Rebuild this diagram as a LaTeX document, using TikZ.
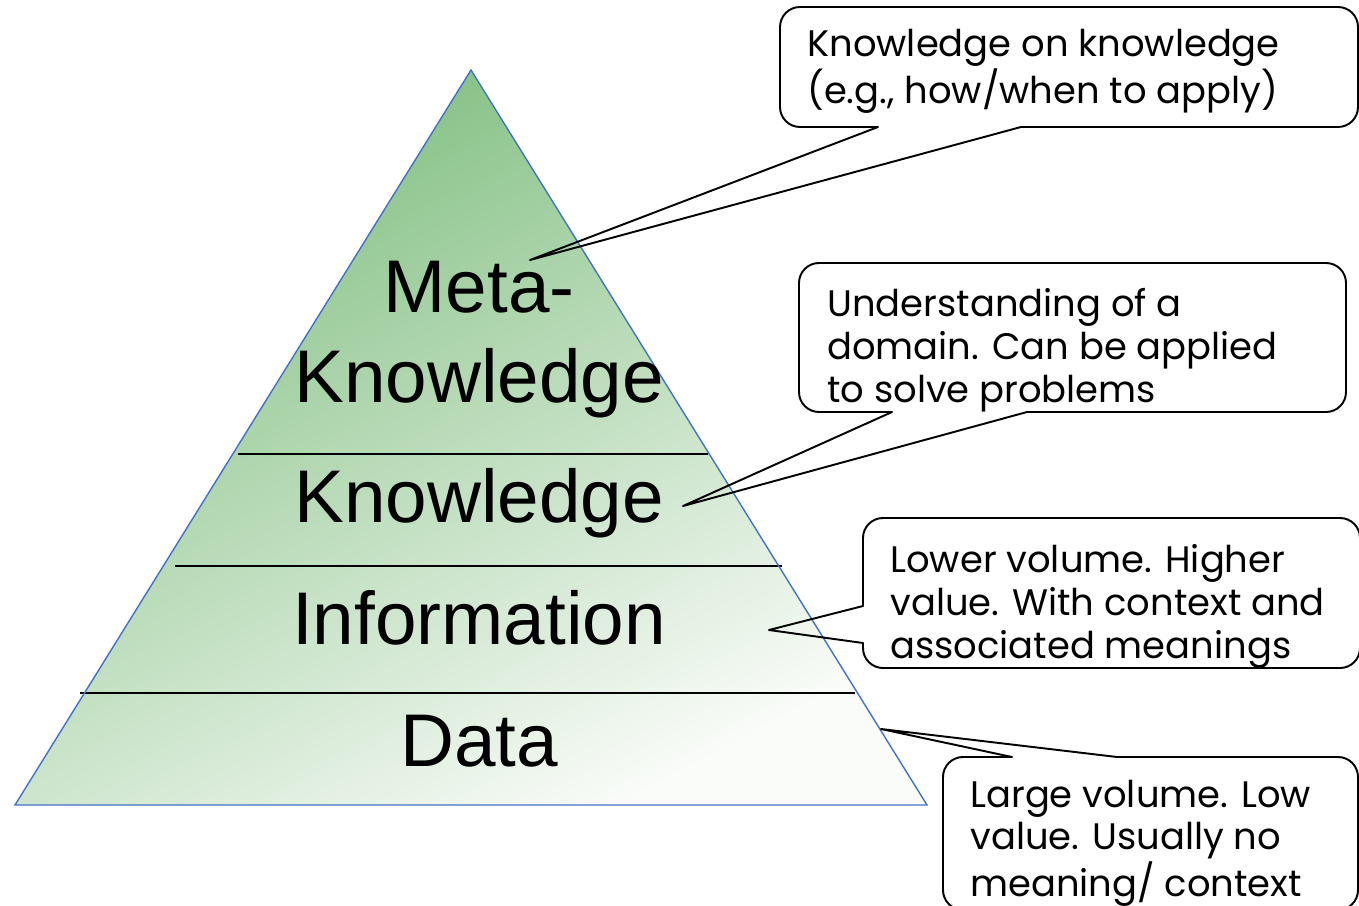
\documentclass[tikz,border=0pt]{standalone}
\usepackage{fontspec}
\setmainfont{Liberation Sans}
\newfontfamily\notefont{Poppins}

\definecolor{pyrdark}{RGB}{126,189,126}
\definecolor{pyrlight}{RGB}{250,252,249}
\definecolor{pyredge}{RGB}{68,114,196}

\begin{document}
\begin{tikzpicture}[x = 0.02cm, y = -0.02cm,
	level/.style = {font = \fontsize{42.5}{51}\selectfont, align = center, inner sep = 0pt, anchor = base},
	note/.style = {font = \notefont\fontsize{21}{24.4}\selectfont, align = left, inner sep = 0pt, anchor = base west},
	bubble/.style = {draw, line width = 1.1pt, line join = round}]
	
	\clip (0, 0) rectangle (1359, 906);
	
	% Pyramid w layers
	
	\shade [top color = pyrdark, bottom color = pyrlight, shading angle = 28] (471, 70) -- (927, 805) -- (15, 805) -- cycle;
	
	\draw [line width = 1.1pt] (238, 454) -- (708, 454);
	\draw [line width = 1.1pt] (175, 566) -- (782, 566);
	\draw [line width = 1.1pt] (80, 693) -- (855, 693);
	
	\draw [pyredge, line width = 0.8pt] (471, 70) -- (927, 805) -- (15, 805) -- cycle;
	
	\node [level] (meta) at (479, 402) {Meta-\\Knowledge};
	\node [level] (know) at (479, 522) {Knowledge};
	\node [level] (info) at (479, 644) {Information};
	\node [level] (data) at (479, 766) {Data};
	
	% Callouts w notes
	
	\coordinate (metatip) at (530, 260);
	\coordinate (knowtip) at (683, 506);
	\coordinate (infotip) at (769, 630);
	\coordinate (datatip) at (881, 729);
	
	\draw [bubble] (878, 127) -- (metatip) -- (1021, 127) -- (1338, 127) arc (90:0:20) -- (1358, 27) arc (0:-90:20) -- (800, 7) arc (-90:-180:20) -- (780, 107) arc (180:90:20) -- cycle;
	\node [note] (metanote) at (807, 103) {Knowledge on knowledge\\(e.g., how/when to apply)};
	
	\draw [bubble] (892, 412) -- (knowtip) -- (1027, 412) -- (1326, 412) arc (90:0:20) -- (1346, 283) arc (0:-90:20) -- (819, 263) arc (-90:-180:20) -- (799, 392) arc (180:90:20) -- cycle;
	\node [note] (knownote) at (827, 402) {Understanding of a\\domain. Can be applied\\to solve problems};
	
	\draw [bubble] (863, 606) -- (infotip) -- (863, 643) -- (863, 648) arc (180:90:20) -- (1340, 668) arc (90:0:20) -- (1360, 538) arc (0:-90:20) -- (883, 518) arc (-90:-180:20) -- cycle;
	\node [note] (infonote) at (890, 658) {Lower volume. Higher\\value. With context and\\associated meanings};
	
	\draw [bubble] (1117, 757) -- (datatip) -- (1012, 757) -- (963, 757) arc (-90:-180:20) -- (943, 890) arc (180:90:20) -- (1338, 910) arc (90:0:20) -- (1358, 777) arc (0:-90:20) -- cycle;
	\node [note] (datanote) at (970, 896) {Large volume. Low\\value. Usually no\\meaning/ context};
	
\end{tikzpicture}
\end{document}
